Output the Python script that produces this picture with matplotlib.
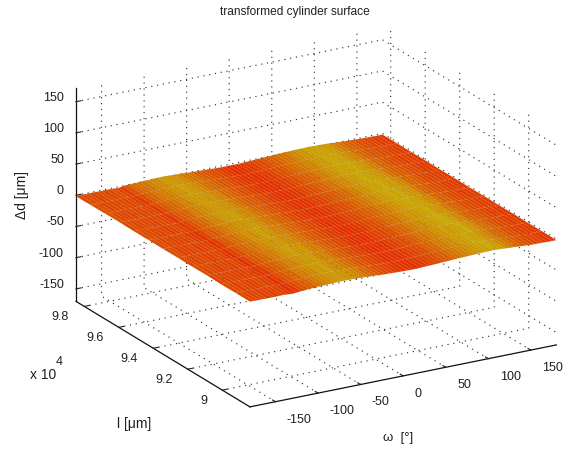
import matplotlib
matplotlib.use('Agg')
import numpy as np
import matplotlib.pyplot as plt
from matplotlib.colors import LinearSegmentedColormap, Normalize

plt.rcParams['font.family'] = ['Liberation Sans', 'DejaVu Sans']
plt.rcParams['font.size'] = 9
plt.rcParams['axes.unicode_minus'] = False
plt.rcParams['grid.color'] = '#383838'
plt.rcParams['grid.linestyle'] = (0, (1, 4))
plt.rcParams['grid.linewidth'] = 0.85

# values
omega = list(range(-180, 185, 5))
l_um = [88400, 89240, 90080, 90920, 91760, 92600, 93440, 94280, 95120, 95960, 96800, 97640, 98480]

# delta_d is in steps of d_step_um, one row per l, one column per omega
d_step_um = 0.25
delta_d = [
    [-5, -6, -6, -6, -7, -6, -7, -6, -6, -8, -10, -8, -5, -3, -1, 0, 2, 3, 4, 5, 6, 7, 7, 6, 6, 5, 4, 3, 1, 0, -2, -4, -5, -6, -7, -8, -9, -9, -10, -10, -9, -8, -7, -6, -5, -3, -2, -1, 1, 2, 3, 4, 5, 6, 7, 8, 8, 9, 8, 7, 5, 3, 2, 0, -2, -3, -5, -6, -6, -7, -8, -8, -8],
    [-5, -5, -7, -5, -6, -7, -6, -5, -7, -7, -10, -7, -4, -3, 0, 0, 3, 3, 5, 5, 7, 6, 8, 6, 5, 5, 3, 2, 1, -1, -3, -3, -6, -6, -8, -8, -10, -9, -9, -10, -8, -8, -6, -6, -4, -4, -1, 0, 1, 3, 3, 5, 5, 7, 7, 8, 9, 8, 8, 6, 5, 3, 1, 0, -1, -4, -4, -6, -7, -7, -8, -7, -7],
    [-6, -5, -6, -6, -6, -6, -7, -6, -6, -8, -9, -8, -4, -2, -1, 1, 2, 4, 4, 6, 6, 7, 7, 7, 5, 4, 4, 2, 0, -1, -2, -4, -5, -7, -7, -9, -9, -10, -9, -9, -9, -7, -7, -5, -5, -3, -2, 0, 2, 2, 4, 4, 6, 6, 8, 7, 8, 8, 9, 7, 6, 4, 2, 1, -1, -3, -5, -5, -6, -8, -7, -8, -8],
    [-4, -6, -5, -6, -7, -5, -6, -7, -5, -7, -10, -7, -3, -2, 0, 1, 3, 3, 5, 6, 7, 8, 6, 6, 6, 4, 3, 3, 1, -1, -3, -3, -6, -6, -8, -9, -10, -9, -10, -9, -8, -7, -6, -6, -4, -3, -1, 0, 1, 3, 4, 5, 5, 7, 7, 8, 9, 9, 8, 7, 5, 4, 1, 0, -2, -3, -4, -6, -7, -6, -8, -8, -7],
    [-5, -5, -6, -5, -5, -7, -6, -5, -6, -8, -9, -6, -4, -1, 0, 2, 2, 4, 5, 6, 6, 7, 7, 5, 5, 4, 2, 2, 0, -2, -2, -4, -5, -7, -8, -8, -9, -10, -10, -9, -8, -8, -6, -5, -4, -3, -1, 1, 2, 2, 4, 5, 6, 6, 7, 8, 8, 9, 7, 6, 6, 3, 2, 0, -1, -4, -5, -5, -6, -7, -7, -8, -8],
    [-4, -5, -7, -6, -6, -5, -7, -6, -6, -7, -9, -7, -3, -2, 1, 1, 3, 4, 6, 5, 7, 8, 6, 6, 4, 4, 3, 1, 0, -1, -3, -4, -6, -6, -7, -9, -10, -9, -9, -9, -8, -6, -6, -5, -3, -2, -1, 0, 1, 3, 3, 5, 6, 7, 8, 8, 9, 8, 8, 7, 5, 4, 2, -1, -1, -3, -5, -6, -6, -8, -7, -7, -7],
    [-5, -4, -6, -5, -7, -6, -6, -5, -7, -8, -9, -6, -2, -2, 0, 2, 3, 5, 5, 6, 6, 7, 7, 6, 5, 3, 2, 2, -1, -1, -2, -5, -5, -7, -8, -8, -9, -9, -10, -8, -8, -7, -5, -5, -4, -2, 0, 1, 2, 3, 5, 5, 7, 7, 8, 9, 8, 9, 7, 6, 6, 3, 1, 0, -2, -4, -4, -5, -7, -7, -8, -8, -8],
    [-4, -5, -5, -6, -6, -5, -7, -6, -5, -7, -8, -6, -3, -1, 1, 2, 4, 4, 6, 7, 7, 8, 7, 5, 4, 4, 2, 1, 0, -2, -3, -4, -6, -7, -7, -9, -10, -9, -9, -9, -7, -7, -6, -4, -3, -2, -1, 1, 1, 3, 4, 6, 6, 8, 8, 8, 9, 8, 7, 7, 5, 4, 1, 0, -1, -3, -5, -6, -6, -7, -7, -8, -7],
    [-5, -4, -6, -5, -5, -6, -6, -5, -6, -7, -9, -5, -2, -1, 0, 3, 3, 5, 5, 6, 7, 7, 6, 6, 5, 3, 2, 0, -1, -2, -2, -5, -5, -7, -8, -9, -9, -10, -9, -8, -8, -6, -5, -4, -3, -1, 0, 2, 2, 4, 5, 5, 7, 7, 8, 9, 8, 8, 7, 6, 5, 2, 1, -1, -2, -3, -5, -5, -6, -8, -8, -7, -8],
    [-3, -5, -5, -6, -6, -4, -6, -5, -5, -6, -8, -5, -2, 0, 1, 2, 4, 4, 6, 7, 7, 7, 6, 6, 4, 4, 1, 1, -1, -2, -4, -4, -6, -8, -8, -9, -10, -9, -9, -8, -7, -7, -5, -4, -2, -1, 0, 1, 3, 3, 5, 6, 7, 8, 8, 8, 9, 8, 7, 6, 4, 3, 0, 0, -2, -4, -4, -6, -7, -6, -7, -8, -7],
    [-4, -4, -6, -5, -5, -5, -5, -6, -5, -7, -8, -4, -1, 0, 2, 3, 3, 5, 6, 6, 8, 7, 6, 5, 4, 2, 1, 0, -1, -3, -3, -5, -7, -7, -9, -9, -9, -10, -9, -8, -8, -6, -4, -4, -2, 0, 1, 2, 3, 4, 4, 6, 7, 7, 9, 8, 8, 8, 6, 5, 4, 2, 0, -1, -3, -3, -5, -5, -6, -7, -8, -7, -8],
    [-5, -5, -4, -6, -5, -4, -6, -5, -4, -6, -7, -4, 0, 1, 2, 2, 4, 5, 5, 7, 7, 6, 6, 5, 3, 2, 2, -1, -2, -3, -4, -5, -6, -8, -8, -10, -10, -9, -8, -8, -7, -5, -5, -3, -2, -1, 1, 2, 2, 4, 5, 6, 6, 8, 8, 8, 8, 7, 7, 5, 3, 2, 0, -1, -2, -4, -5, -6, -6, -8, -7, -8, -7],
    [-6, -4, -5, -5, -4, -5, -5, -4, -5, -6, -8, -3, 0, 1, 1, 3, 4, 4, 6, 6, 7, 7, 5, 4, 3, 3, 0, -1, -3, -3, -5, -5, -7, -8, -9, -9, -9, -9, -9, -8, -6, -6, -4, -3, -1, -1, 1, 3, 3, 5, 5, 7, 7, 7, 8, 9, 7, 7, 6, 5, 3, 1, 0, -2, -3, -4, -5, -6, -7, -7, -8, -8, -8],
]

x_ticks = [-150, -100, -50, 0, 50, 100, 150]
y_ticks = [90000, 92000, 94000, 96000, 98000]
y_labels = ['9', '9.2', '9.4', '9.6', '9.8']
z_ticks = [-150, -100, -50, 0, 50, 100, 150]

fig = plt.figure(figsize=(5.67, 4.49), dpi=100)
# axes is bigger than the figure so the box does not get clipped
ax = fig.add_axes([44 / 567, -39.6 / 449, 530 / 567, 530 / 449], projection='3d', proj_type='ortho')
ax.view_init(elev=20.5, azim=-120)
ax.set_box_aspect((354, 348, 228), zoom=1)

X, Y = np.meshgrid(omega, l_um)
Z = np.array(delta_d, dtype=float) * d_step_um
cmap = LinearSegmentedColormap.from_list('redyellow', ['#e62e00', '#d96400', '#c8b000'])
colors = cmap(Normalize(-2.5, 2.5)(Z))
ax.plot_surface(X, Y, Z, rstride=1, cstride=1, facecolors=colors, shade=False,
                linewidth=0.15, edgecolor=(0.45, 0.25, 0, 0.2), antialiased=True)

ax.set_xlim(-180, 180, view_margin=0)
ax.set_ylim(88400, 98480, view_margin=0)
ax.set_zlim(-170, 172, view_margin=0)
ax.set_xticks(x_ticks)
ax.set_yticks(y_ticks)
ax.set_yticklabels(y_labels)
ax.set_zticks(z_ticks)
ax.tick_params(labelsize=9, width=0.6, colors='#202020')
ax.tick_params(axis='x', pad=5)
ax.tick_params(axis='y', pad=2)
ax.tick_params(axis='z', pad=-3)

for axis in [ax.xaxis, ax.yaxis, ax.zaxis]:
    axis.set_pane_color((1, 1, 1, 0))
    axis.pane.set_edgecolor((1, 1, 1, 0))
    axis.line.set_color('#101010')
    axis.line.set_linewidth(0.9)
    axis._axinfo['tick']['inward_factor'] = 0
    axis._axinfo['tick']['outward_factor'] = 0.2

for lab in ax.get_xticklabels():
    lab.set_ha('left')
    lab.set_va('baseline')
for lab in ax.get_yticklabels():
    lab.set_ha('right')
    lab.set_va('baseline')
for lab in ax.get_zticklabels():
    lab.set_ha('right')
    lab.set_va('baseline')

def px(x, y):
    return x / 567, 1 - y / 449

fig.text(*px(295, 12), 'transformed cylinder surface', ha='center', va='center', color='#202020', fontsize=8.6)
fig.text(*px(398, 438), 'ω  [°]', ha='center', va='center', color='#202020', fontsize=9.5)
fig.text(*px(134, 424), 'l [μm]', ha='center', va='center', color='#202020', fontsize=10)
fig.text(*px(22, 195), 'Δd [μm]', ha='center', va='center', rotation=90, color='#202020', fontsize=10)
fig.text(*px(43, 375), 'x 10', ha='center', va='center', color='#202020', fontsize=10)
fig.text(*px(59, 362), '4', ha='center', va='center', color='#202020', fontsize=9)

fig.savefig('out.png', dpi=100)
